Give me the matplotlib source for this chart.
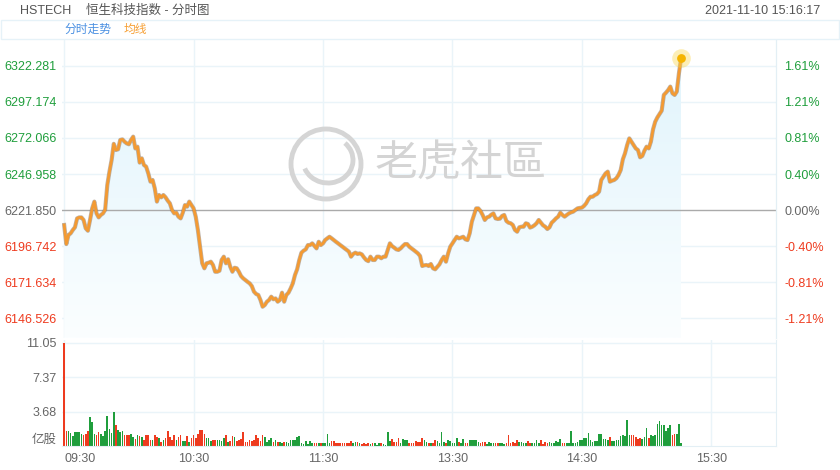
import numpy as np
import matplotlib.pyplot as plt
import matplotlib.patheffects as pe
from matplotlib.patches import Circle, Arc, Polygon, Rectangle
from matplotlib.colors import LinearSegmentedColormap

plt.rcParams['font.family'] = ['Liberation Sans', 'Noto Sans CJK SC']

prev_close = 6221.85

# one value per trading minute, 09:30 .. 15:16 (lunch break removed)
price = [
    6211.4, 6198.1, 6204.4, 6205.6, 6207.9, 6209.8, 6216.0, 6216.7, 6216.7, 6214.9,
    6209.1, 6207.4, 6214.9, 6223.0, 6227.7, 6219.5, 6216.7, 6218.4, 6219.5, 6222.0,
    6239.3, 6248.6, 6256.7, 6268.0, 6263.7, 6264.2, 6270.7, 6271.1, 6269.5, 6268.3,
    6267.7, 6270.7, 6273.0, 6264.8, 6266.0, 6254.9, 6257.9, 6253.2, 6252.1, 6247.4,
    6241.6, 6242.8, 6237.0, 6227.7, 6232.3, 6230.7, 6232.3, 6230.7, 6228.4, 6226.5,
    6221.9, 6219.5, 6220.0, 6217.2, 6216.0, 6220.0, 6225.3, 6224.2, 6227.7, 6225.3,
    6223.0, 6217.2, 6207.9, 6196.3, 6184.7, 6181.2, 6184.7, 6185.1, 6185.8, 6183.5,
    6178.8, 6178.8, 6179.5, 6187.0, 6189.3, 6184.7, 6187.5, 6182.3, 6178.8, 6181.6,
    6181.2, 6178.8, 6175.8, 6174.2, 6173.0, 6171.8, 6170.7, 6168.8, 6164.9, 6163.3,
    6162.6, 6159.1, 6154.4, 6155.6, 6157.9, 6159.1, 6161.4, 6159.6, 6160.2, 6157.9,
    6159.1, 6164.2, 6157.9, 6162.6, 6164.2, 6167.2, 6170.7, 6176.5, 6180.5, 6187.0,
    6192.1, 6193.5, 6194.4, 6197.4, 6197.4, 6198.6, 6196.8, 6195.1, 6199.7, 6197.4,
    6198.6, 6200.9, 6202.1, 6203.2, 6202.1, 6200.9, 6199.7, 6198.6, 6197.4, 6196.3,
    6195.1, 6194.0, 6192.8, 6189.3, 6191.2, 6192.1, 6191.2, 6191.6, 6190.9, 6188.8,
    6187.0, 6186.2, 6189.3, 6187.0, 6187.0, 6189.3, 6189.3, 6188.2, 6189.3, 6189.3,
    6194.0, 6198.6, 6196.7, 6195.6, 6194.4, 6194.0, 6195.1, 6196.7, 6198.1, 6198.1,
    6196.3, 6195.1, 6194.0, 6192.8, 6191.6, 6189.8, 6182.8, 6183.3, 6183.5, 6182.8,
    6184.2, 6181.2, 6180.5, 6182.3, 6184.0, 6187.0, 6189.3, 6185.8, 6191.6, 6196.3,
    6198.6, 6200.9, 6203.2, 6202.1, 6202.6, 6203.2, 6201.4, 6200.9, 6205.6, 6213.7,
    6218.4, 6223.0, 6223.0, 6221.2, 6218.4, 6214.9, 6216.7, 6217.2, 6218.6, 6219.5,
    6216.0, 6215.6, 6215.8, 6217.7, 6218.4, 6214.2, 6213.0, 6212.6, 6211.4, 6207.9,
    6206.7, 6209.8, 6210.2, 6210.2, 6212.6, 6212.1, 6209.6, 6210.2, 6211.2, 6212.6,
    6214.9, 6213.0, 6211.2, 6210.2, 6208.6, 6209.8, 6213.0, 6214.4, 6216.0, 6217.2,
    6220.0, 6218.4, 6217.2, 6218.4, 6219.5, 6220.2, 6220.7, 6221.9, 6223.0, 6223.3,
    6223.5, 6224.7, 6226.5, 6229.3, 6231.1, 6231.1, 6232.3, 6233.0, 6234.7, 6242.8,
    6245.1, 6247.4, 6248.6, 6241.6, 6242.3, 6242.8, 6244.0, 6246.3, 6249.7, 6257.2,
    6261.4, 6267.2, 6271.8, 6269.5, 6267.2, 6264.8, 6263.7, 6258.6, 6259.5, 6263.2,
    6266.0, 6264.8, 6269.5, 6278.1, 6283.4, 6286.4, 6288.8, 6291.1, 6302.1, 6303.7,
    6305.5, 6307.9, 6303.2, 6302.1, 6304.4, 6317.2, 6327.6,
]

# volume, 100 million shares
volume = [
    11.05, 1.6, 1.65, 1.4, 1.05, 1.55, 1.55, 1.55, 1.3, 1.15,
    1.25, 1.65, 3.1, 2.6, 1.3, 1.15, 1.5, 1.3, 1.05, 1.65,
    3.2, 1.8, 1.4, 3.6, 2.2, 1.7, 1.5, 1.65, 1.15, 1.15,
    1.2, 1.3, 0.95, 0.8, 1.2, 1.05, 0.95, 0.6, 1.15, 1.2,
    0.65, 0.65, 1.15, 0.95, 0.85, 0.45, 0.65, 0.85, 1.65, 0.95,
    0.6, 1.2, 0.6, 0.95, 1.15, 0.55, 0.55, 1.05, 0.45, 0.85,
    1.15, 0.85, 1.3, 1.75, 1.75, 1.25, 0.85, 0.85, 0.55, 0.6,
    0.6, 0.6, 0.6, 0.5, 0.85, 1.2, 0.45, 0.55, 1.05, 0.95,
    0.55, 0.6, 0.8, 1.55, 0.45, 0.45, 0.65, 0.55, 0.65, 1.15,
    0.9, 0.55, 1.2, 0.95, 0.45, 0.65, 0.9, 0.45, 0.6, 0.4,
    0.4, 0.3, 0.45, 0.4, 0.3, 0.65, 0.65, 0.65, 0.95, 1.05,
    0.3, 0.2, 0.5, 0.2, 0.5, 0.35, 0.35, 0.3, 0.35, 0.3,
    0.3, 0.35, 1.25, 0.35, 0.5, 0.5, 0.3, 0.3, 0.3, 0.3,
    0.3, 0.3, 0.3, 0.5, 0.3, 0.45, 0.45, 0.35, 0.2, 0.35,
    0.2, 0.35, 0.2, 0.3, 0.3, 0.1, 0.3, 0.35, 0.2, 0.15,
    1.5, 0.5, 0.7, 0.45, 0.45, 0.85, 0.3, 0.8, 0.65, 0.6,
    0.35, 0.3, 0.35, 0.5, 0.45, 0.45, 0.9, 0.6, 0.45, 0.35,
    0.35, 0.35, 0.6, 0.5, 0.3, 1.55, 0.45, 0.35, 0.6, 0.5,
    0.3, 0.35, 0.85, 0.45, 0.35, 0.7, 0.3, 0.3, 0.6, 0.65,
    0.65, 0.65, 0.45, 0.3, 0.45, 0.45, 0.2, 0.45, 0.35, 0.35,
    0.35, 0.35, 0.3, 0.35, 0.2, 0.35, 1.2, 0.3, 0.45, 0.3,
    0.65, 0.45, 0.45, 0.35, 0.35, 0.5, 0.35, 0.3, 0.35, 0.65,
    0.35, 0.6, 0.2, 0.45, 0.35, 0.45, 0.35, 0.35, 0.5, 0.45,
    0.8, 0.35, 0.35, 0.35, 0.35, 1.65, 0.3, 0.3, 0.45, 0.65,
    0.6, 0.9, 0.9, 1.4, 0.6, 0.45, 0.5, 0.5, 1.3, 1.3,
    0.7, 0.7, 0.65, 0.95, 0.55, 0.55, 0.6, 0.65, 1.05, 1.2,
    1.05, 2.8, 1.2, 1.15, 1.15, 0.95, 0.8, 0.9, 0.8, 0.95,
    1.95, 0.9, 1.15, 1.05, 1.2, 2.35, 2.7, 2.2, 2.2, 1.65,
    1.95, 2.25, 1.15, 1.3, 1.25, 2.4, 0.35,
]

price_ticks = [6146.526, 6171.634, 6196.742, 6221.850, 6246.958, 6272.066, 6297.174, 6322.281]
pct_labels = ['-1.21%', '-0.81%', '-0.40%', '0.00%', '0.40%', '0.81%', '1.21%', '1.61%']
vol_ticks = [3.68, 7.37, 11.05]
time_pos = [0, 60, 120, 180, 240, 300]
time_labels = ['09:30', '10:30', '11:30', '13:30', '14:30', '15:30']

green = '#1f9e3c'
red = '#ee3b1f'
gray = '#666666'
grid_c = '#eaf4f9'

fig = plt.figure(figsize=(8.4, 4.7), dpi=100)
ax = fig.add_axes([62 / 840, 132 / 470, 714 / 840, 298 / 470])
axv = fig.add_axes([62 / 840, 24 / 470, 714 / 840, 106 / 470])

x = np.arange(len(price))
ymin, ymax = 6132.6, 6340.4

# gridlines
for p in price_ticks:
    if p == prev_close:
        ax.axhline(p, color='#aaaaaa', lw=1, zorder=1)
    else:
        ax.axhline(p, color=grid_c, lw=1, zorder=0)
for t in time_pos[:-1]:
    ax.axvline(t, color=grid_c, lw=1, zorder=0)

# gradient area under the line
cmap = LinearSegmentedColormap.from_list('fill', ['#fbfeff', '#e1f4fc'])
grad = np.linspace(1, 0, 256).reshape(-1, 1)
im = ax.imshow(grad, extent=[0, x[-1], ymin, max(price)], aspect='auto', cmap=cmap, zorder=0.5)
verts = [(0, ymin)] + list(zip(x, price)) + [(x[-1], ymin)]
poly = Polygon(verts, closed=True, facecolor='none', edgecolor='none')
ax.add_patch(poly)
im.set_clip_path(poly)

ax.plot(x, price, color='#f39a33', lw=2, zorder=3,
        path_effects=[pe.Stroke(linewidth=3.0, foreground='#8c7560', alpha=0.55), pe.Normal()])
ax.scatter(x[-1], price[-1], s=180, color='#f9d54a', alpha=0.4, lw=0, zorder=4)
ax.scatter(x[-1], price[-1], s=40, color='#f5b400', lw=0, zorder=5)

# watermark
wm = fig.dpi_scale_trans
ax.add_patch(Circle((3.26, 3.06), 0.35, transform=wm, fill=False, ec='#d5d5d5', lw=3.5, zorder=1))
ax.add_patch(Arc((3.28, 3.10), 0.5, 0.46, theta1=200, theta2=45, transform=wm, ec='#d5d5d5', lw=3.5, zorder=1))
ax.text(3.75, 3.05, '老虎社區', transform=wm, fontsize=31, color='#d4d4d4',
        family=['Noto Sans CJK TC'], va='center', ha='left', zorder=1)

ax.set_xlim(-1, 330)
ax.set_ylim(ymin, ymax)
ax.set_xticks([])
ax.set_yticks(price_ticks)
ax.set_yticklabels(['%.3f' % p for p in price_ticks], fontsize=9)
ax.tick_params(axis='y', length=0, pad=4)
for lab, p in zip(ax.get_yticklabels(), price_ticks):
    lab.set_color(gray if p == prev_close else (green if p > prev_close else red))
for s in ['top', 'bottom', 'left']:
    ax.spines[s].set_visible(False)
ax.spines['right'].set_color('#e3eff5')

ax2 = ax.twinx()
ax2.set_ylim(ymin, ymax)
ax2.set_yticks(price_ticks)
ax2.set_yticklabels(pct_labels, fontsize=9)
ax2.tick_params(axis='y', length=0, pad=6)
for lab, p in zip(ax2.get_yticklabels(), price_ticks):
    lab.set_color(gray if p == prev_close else (green if p > prev_close else red))
for s in ['top', 'bottom', 'left']:
    ax2.spines[s].set_visible(False)
ax2.spines['right'].set_color('#e3eff5')

# volume panel
colors = []
last = prev_close
for p in price:
    colors.append(green if p >= last else red)
    last = p
for v in vol_ticks:
    axv.axhline(v, color=grid_c, lw=1, zorder=0)
for t in time_pos:
    axv.axvline(t, color=grid_c, lw=1, zorder=0)
axv.bar(x, volume, width=0.75, color=colors, zorder=2)
axv.set_xlim(-1, 330)
axv.set_ylim(0, 11.37)
axv.set_yticks(vol_ticks)
axv.set_yticklabels(['%.2f' % v for v in vol_ticks], fontsize=9, color=gray)
axv.set_xticks(time_pos)
axv.set_xticklabels(time_labels, fontsize=9, color=gray)
axv.get_xticklabels()[0].set_ha('left')
axv.tick_params(length=0)
axv.tick_params(axis='y', pad=4)
axv.tick_params(axis='x', pad=5)
for s in ['top', 'left']:
    axv.spines[s].set_visible(False)
axv.spines['bottom'].set_color('#e3eff5')
axv.spines['right'].set_color('#e3eff5')
fig.text(57 / 840, 1 - 440 / 470, '亿股', fontsize=9, color=gray, ha='right', va='center')

# header
fig.text(20 / 840, 1 - 11 / 470, 'HSTECH', fontsize=9, color='#555555', va='center')
fig.text(86 / 840, 1 - 11 / 470, '恒生科技指数 - 分时图', fontsize=9, color='#555555', va='center')
fig.text(820 / 840, 1 - 11 / 470, '2021-11-10 15:16:17', fontsize=9, color='#555555', va='center', ha='right')
fig.add_artist(Rectangle((1 / 840, 1 - 39 / 470), 838 / 840, 19 / 470, transform=fig.transFigure,
                         fill=False, ec='#e6f2f8', lw=1))
fig.text(64 / 840, 1 - 29.5 / 470, '分时走势', fontsize=8.5, color='#4a90e2', va='center')
fig.text(124 / 840, 1 - 29.5 / 470, '均线', fontsize=8.5, color='#f7a035', va='center')

fig.savefig('out.png', dpi=100)
